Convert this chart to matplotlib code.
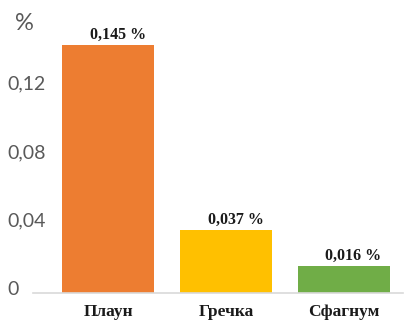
import matplotlib
matplotlib.use("Agg")
import matplotlib.pyplot as plt
from matplotlib.transforms import blended_transform_factory

categories = ["Плаун", "Гречка", "Сфагнум"]
values = [0.145, 0.037, 0.016]
value_labels = ["0,145 %", "0,037 %", "0,016 %"]
colors = ["#ED7D31", "#FFC000", "#70AD47"]
yticks = [0, 0.04, 0.08, 0.12]
ytick_labels = ["0", "0,04", "0,08", "0,12"]

W, H = 406, 322
fig = plt.figure(figsize=(W / 100, H / 100), dpi=100)
left, right, bottom, top = 33, 403, 293, 19
ax = fig.add_axes([left / W, (H - bottom) / H, (right - left) / W, (bottom - top) / H])

x = list(range(len(categories)))
ax.bar(x, values, width=0.78, color=colors, zorder=2)
ax.set_xlim(-0.64, 2.5)
ax.set_ylim(0, 0.16)

for s in ["top", "right", "left"]:
    ax.spines[s].set_visible(False)
ax.spines["bottom"].set_color("#d9d9d9")
ax.spines["bottom"].set_linewidth(1.2)

ax.set_yticks([])
ax.set_xticks(x)
ax.set_xticklabels(categories, fontfamily="Liberation Serif", fontweight="bold",
                   fontsize=12.5, color="#1a1a1a")
ax.tick_params(axis="x", length=0, pad=8)

tr = blended_transform_factory(fig.transFigure, ax.transData)
for v, lab in zip(yticks, ytick_labels):
    fig.text(7 / W, v + 0.002, lab, transform=tr, ha="left", va="center",
             fontsize=14, color="#595959", fontfamily="Lato")
fig.text(24 / W, 1 - 23 / H, "%", ha="center", va="center", fontsize=17,
         color="#595959", fontfamily="Lato")

for xi, v, lab in zip(x, values, value_labels):
    ax.text(xi + 0.08, v + 0.001, lab, ha="center", va="bottom",
            fontfamily="Liberation Serif", fontweight="bold", fontsize=11.5,
            color="#1a1a1a")

fig.savefig("out.png", dpi=100)
